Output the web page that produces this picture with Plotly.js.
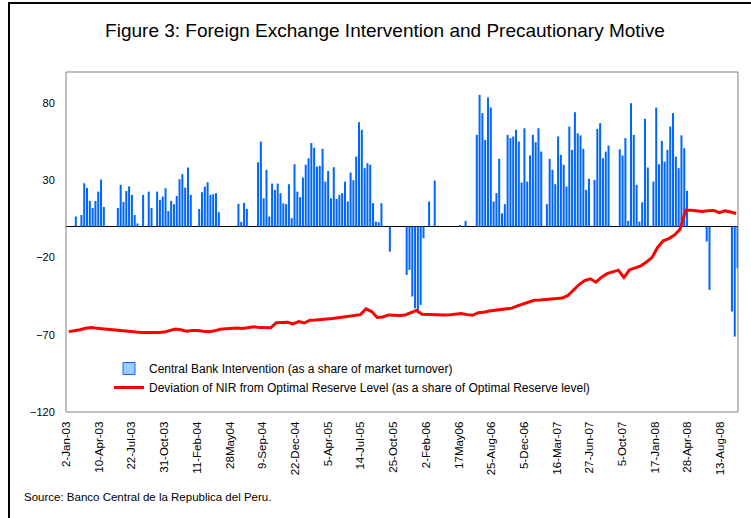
<!DOCTYPE html>
<html><head><meta charset="utf-8">
<script src="https://cdn.plot.ly/plotly-3.0.1.min.js"></script>
<style>html,body{margin:0;padding:0;background:#fff}#chart{width:751px;height:518px}</style>
</head><body><div id="chart"></div>
<script>
// Category axis: trading days, a label every 70 days (Excel style)
const tickLabels = ["2-Jan-03","10-Apr-03","22-Jul-03","31-Oct-03","11-Feb-04","28May04","9-Sep-04","22-Dec-04","5-Apr-05","14-Jul-05","25-Oct-05","2-Feb-06","17May06","25-Aug-06","5-Dec-06","16-Mar-07","27-Jun-07","5-Oct-07","17-Jan-08","28-Apr-08","13-Aug-08"];
const LABEL_STEP = 70;
const N_DAYS = 1438;

// Central Bank Intervention (% of market turnover), one value per 6 trading days
const BAR_BIN = 6;
const intervention = [
0,0,0,6.5,0,7.5,28,25,16.6,12,
16.6,22.6,30.4,12.7,0,0,0,0,12,27,
16,23,26,20.5,7.5,2,0,20.5,0,22.6,
12,0,22.6,17.3,19.4,24.8,10,16.6,14.5,19.8,
30.6,33.9,25.2,38.2,20.5,0,0,11.4,22.2,25.9,
28.7,20.5,20.9,21.6,9.3,0,0,0,0,0,
0,14.7,3,15.3,11.4,0,0,0,41.6,55,
18.3,36.7,6.5,27.8,23.7,27.8,21.6,15,14.5,27.4,
5.4,40.3,22.6,19,31.7,40,44.2,54,51,38.8,
39.3,50.3,29.1,36,18.3,38.4,17.9,20.5,21.6,29,
16.2,35,30,45.3,67.5,62.6,37.8,41,40,15.1,
3.2,2.8,15.1,0,0,-16.2,0,0,0,0,
0,-31.3,-28,-45.3,-52.9,-56,-50.7,-7.5,0,16.2,
0,29.8,0,0,0,0,0,0,0,0,
1,0,3.7,0,0,0,59.3,85.2,73.4,56,
83.5,77,16.2,21.6,43.8,8.6,14.5,59.3,57.2,58.3,
62.6,55,28.5,63.6,29.1,46,59.3,54.6,63.6,48.5,
0,14.5,43.8,36.7,27.4,58.3,46.4,40,25.9,64.7,
49.6,74,60.4,59,50.3,23.7,30.9,0,30.2,63.2,
66.9,44.2,48.5,52.4,0,0,0,50,46,57.2,
3.7,79.8,59.3,27,3.2,15.7,69.7,38.2,0,29.1,
77,40.3,55.4,42,49.6,64.7,73.4,45.3,37.8,59,
50.7,23.1,0,0,0,0,0,0,-9.7,-41,
0,0,0,0,0,0,0,-55,-71.2,-27
];

// Deviation of NIR from optimal reserve level (%), one value per 12 trading days
const LINE_BIN = 12;
const nirDeviation = [
-68,-67.5,-66.8,-65.8,-65.4,-65.8,-66.2,-66.7,-67.1,-67.5,
-67.9,-68.1,-68.3,-68.5,-68.6,-68.6,-68.6,-68.3,-67.2,-66.3,
-66.8,-67.8,-67.3,-67.3,-67.8,-68,-67.5,-66.5,-66.2,-66,
-65.6,-66,-65.2,-64.8,-65.4,-65.6,-65.5,-62.2,-62.1,-62,
-63,-61.5,-62.4,-60.6,-60.4,-60.2,-60,-59.5,-59,-58.4,
-58,-57.6,-57,-53.3,-55,-58.8,-58.5,-57.2,-57.4,-57.6,
-57.2,-55.8,-54.3,-56.8,-57,-57.2,-57.2,-57.2,-57,-56.8,
-56.3,-57,-57.4,-55.7,-55.5,-54.6,-54.2,-54,-53.6,-52.8,
-51.3,-50.2,-49,-47.7,-47.6,-47.2,-46.8,-46.6,-46.3,-44.6,
-41,-37.6,-35,-33.8,-36,-32.8,-30.5,-29.3,-28.2,-33,
-28,-26.7,-25.5,-23,-20,-13.5,-9.2,-7.8,-5.5,-1.8,
10.5,10.6,10.1,9.7,10.3,10.4,9,10.2,9.4,8.4
];

const yTicks = [-120,-70,-20,30,80];
const FONT = "Liberation Sans, Arial, sans-serif";

const barX = intervention.map((_, k) => k * BAR_BIN + (BAR_BIN - 1) / 2);
const lineX = nirDeviation.map((_, j) => j * LINE_BIN + (LINE_BIN - 1) / 2);
const tickVals = tickLabels.map((_, i) => i * LABEL_STEP);

const traces = [
  {type:'bar', x:barX, y:intervention, width:BAR_BIN*0.72,
   marker:{color:'#0066ff', line:{width:0}}, showlegend:false, hoverinfo:'skip'},
  {type:'bar', x:[null], y:[null], name:'Central Bank Intervention (as a share of market turnover)',
   marker:{color:'#99ccff', line:{color:'#1f5fff', width:1}}, showlegend:true},
  {type:'scatter', mode:'lines', x:lineX, y:nirDeviation,
   name:'Deviation of NIR from Optimal Reserve Level (as a share of Optimal Reserve level)',
   line:{color:'#ff0000', width:3}}
];

// pixel helpers for paper coords (plot area 66..738 x 72..412)
const px = v => (v - 66) / 672;
const py = v => (412 - v) / 340;

const layout = {
  width:751, height:518,
  margin:{l:66, r:13, t:72, b:106},
  paper_bgcolor:'#fff', plot_bgcolor:'#fff',
  font:{family:FONT, color:'#000', size:11},
  barmode:'overlay',
  title:{text:'Figure 3: Foreign Exchange Intervention and Precautionary Motive',
         font:{family:FONT, size:19, color:'#000'},
         x:385/751, xanchor:'center', xref:'container', y:1-30/518, yanchor:'middle', yref:'container'},
  xaxis:{range:[-0.5, N_DAYS-0.5], tickmode:'array', tickvals:tickVals, ticktext:tickLabels,
         tickangle:-90, showgrid:false, zeroline:false, showline:false,
         ticks:'outside', ticklen:4, tickcolor:'rgba(0,0,0,0)', tickfont:{size:11.5, family:FONT}},
  yaxis:{range:[-120,100], tickmode:'array', tickvals:yTicks, showgrid:false,
         zeroline:true, zerolinecolor:'#000', zerolinewidth:1, showline:false,
         ticks:'outside', ticklen:8, tickcolor:'rgba(0,0,0,0)', tickfont:{size:11, family:FONT}},
  legend:{x:px(109), y:py(354), xanchor:'left', yanchor:'top', bgcolor:'rgba(0,0,0,0)',
          font:{size:12, family:FONT}, itemwidth:30, tracegroupgap:0},
  shapes:[
    {type:'rect', xref:'paper', yref:'paper', x0:0, x1:1, y0:0, y1:1, line:{color:'#808080', width:1}},
    {type:'line', xref:'paper', yref:'paper', x0:px(9), x1:px(9), y0:py(3), y1:py(520), line:{color:'#000', width:2}},
    {type:'line', xref:'paper', yref:'paper', x0:px(8), x1:px(753), y0:py(3), y1:py(3), line:{color:'#000', width:2}}
  ],
  annotations:[
    {text:'Source: Banco Central de la Republica del Peru.', xref:'paper', yref:'paper',
     x:px(22), y:py(497), xanchor:'left', yanchor:'middle', showarrow:false,
     font:{size:11.5, family:FONT, color:'#000'}}
  ]
};

Plotly.newPlot('chart', traces, layout, {displayModeBar:false, staticPlot:true});
</script>
</body></html>
